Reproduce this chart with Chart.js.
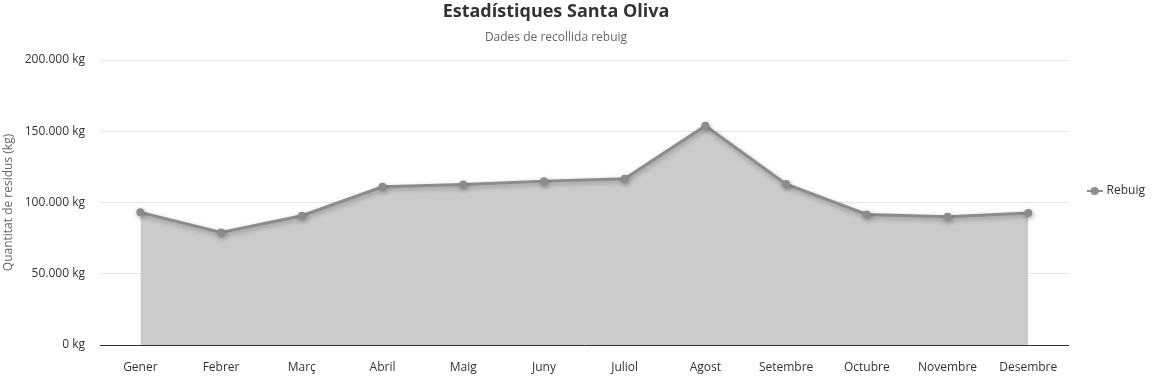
<!DOCTYPE html>
<html>
<head>
<meta charset="utf-8">
<script src="https://cdn.jsdelivr.net/npm/chart.js@4.4.1/dist/chart.umd.min.js"></script>
<style>
  body { margin: 0; background: #fff; }
  #wrap { width: 1155px; height: 377px; position: relative; }
</style>
</head>
<body>
<div id="wrap"><canvas id="rebuig-chart"></canvas></div>
<script>
// dades mensuals de rebuig (kg)
const mesos = ['Gener', 'Febrer', 'Març', 'Abril', 'Maig', 'Juny', 'Juliol', 'Agost', 'Setembre', 'Octubre', 'Novembre', 'Desembre'];
const rebuig = [93100, 79000, 90700, 111000, 112700, 115000, 116600, 153800, 112900, 91600, 90000, 92600];
const yTicks = [0, 50000, 100000, 150000, 200000];

const lineColor = '#8c8c8c';
const fillColor = '#cbcbcb';
const font = "'Open Sans', 'Noto Sans', sans-serif";

// legend symbol: line with a dot, like the original
const sym = document.createElement('canvas');
sym.width = 16; sym.height = 10;
let sctx = sym.getContext('2d');
sctx.strokeStyle = lineColor;
sctx.lineWidth = 2;
sctx.beginPath(); sctx.moveTo(0, 5); sctx.lineTo(16, 5); sctx.stroke();
sctx.fillStyle = lineColor;
sctx.beginPath(); sctx.arc(8, 5, 4, 0, Math.PI * 2); sctx.fill();

// soft shadow under the line
const shadowPlugin = {
  id: 'lineShadow',
  beforeDatasetDraw(chart) {
    let c = chart.ctx;
    c.save();
    c.shadowColor = 'rgba(0,0,0,0.3)';
    c.shadowBlur = 5;
    c.shadowOffsetX = 1;
    c.shadowOffsetY = 2;
  },
  afterDatasetDraw(chart) {
    chart.ctx.restore();
  }
};

// the titles in the original are centred a bit left of the canvas middle,
// and the legend sits a little lower
const layoutTweaks = {
  id: 'layoutTweaks',
  afterLayout(chart) {
    chart.boxes.forEach((b) => {
      if (b.position === 'top' && b.options && 'text' in b.options) {
        b.right = b.left + 1112;
      }
    });
    if (chart.legend) {
      chart.legend.top += 3;
      chart.legend.bottom += 3;
    }
  }
};

function kg(v) {
  return v.toString().replace(/\B(?=(\d{3})+(?!\d))/g, '.') + ' kg';
}

var ctx = document.getElementById('rebuig-chart').getContext('2d');
var myChart = new Chart(ctx, {
  type: 'line',
  data: {
    labels: mesos,
    datasets: [{
      label: 'Rebuig',
      data: rebuig,
      borderColor: lineColor,
      borderWidth: 3,
      backgroundColor: fillColor,
      fill: 'origin',
      tension: 0,
      pointRadius: 4,
      pointBackgroundColor: lineColor,
      pointBorderColor: lineColor,
      pointBorderWidth: 0
    }]
  },
  options: {
    responsive: true,
    maintainAspectRatio: false,
    animation: false,
    layout: { padding: { top: 1, right: 0, left: 0, bottom: 2 } },
    plugins: {
      title: {
        display: true,
        text: 'Estadístiques Santa Oliva',
        color: '#333',
        font: { family: font, size: 18, weight: 'bold' },
        padding: { top: 0, bottom: 6 }
      },
      subtitle: {
        display: true,
        text: 'Dades de recollida rebuig',
        color: '#666',
        font: { family: font, size: 12 },
        padding: { top: 2, bottom: 15 }
      },
      legend: {
        position: 'right',
        labels: {
          color: '#333',
          font: { family: font, size: 12 },
          padding: 20,
          usePointStyle: true,
          generateLabels: (chart) => [{
            text: 'Rebuig',
            fillStyle: lineColor,
            strokeStyle: lineColor,
            fontColor: '#333',
            pointStyle: sym,
            datasetIndex: 0,
            hidden: false
          }]
        }
      },
      tooltip: { enabled: false }
    },
    scales: {
      x: {
        offset: true,
        afterFit: (s) => { s.height = 30; },
        grid: { display: false, offset: true, drawTicks: false },
        border: { display: true, color: '#333', width: 1 },
        ticks: { color: '#333', font: { family: font, size: 12 }, padding: 15, maxRotation: 0 }
      },
      y: {
        min: 0,
        max: 200000,
        afterFit: (s) => { s.width = 100; },
        afterBuildTicks: (scale) => { scale.ticks = yTicks.map(v => ({ value: v })); },
        grid: { color: '#e6e6e6', drawTicks: false },
        border: { display: false },
        ticks: { color: '#333', font: { family: font, size: 12 }, padding: 15, callback: (v) => kg(v) },
        title: {
          display: true,
          text: 'Quantitat de residus (kg)',
          color: '#666',
          font: { family: font, size: 12 },
          padding: { top: 1, bottom: 0 }
        }
      }
    }
  },
  plugins: [shadowPlugin, layoutTweaks]
});
</script>
</body>
</html>
